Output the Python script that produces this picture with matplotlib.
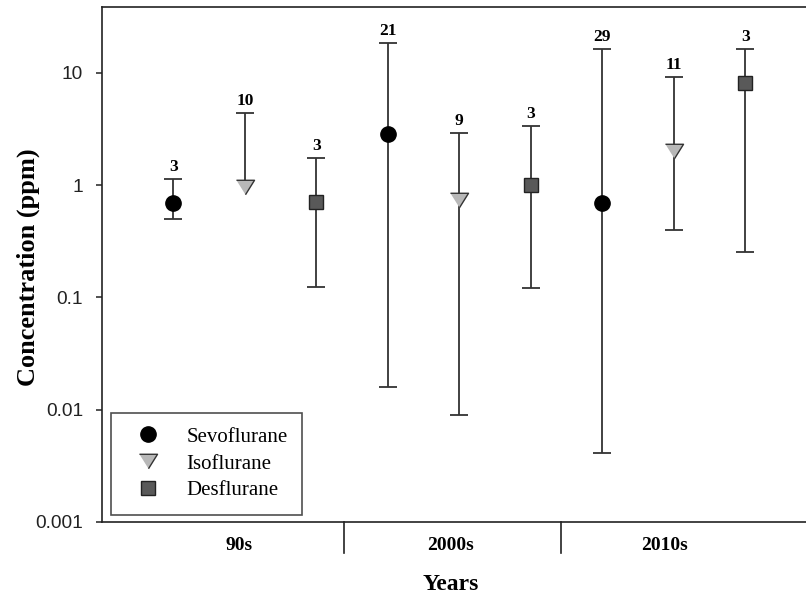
import matplotlib
matplotlib.use("Agg")
import matplotlib.pyplot as plt
import numpy as np
from matplotlib.transforms import blended_transform_factory

# ---- data ----
decades = ["90s", "2000s", "2010s"]
agents = ["Sevoflurane", "Isoflurane", "Desflurane"]

# per agent: values for 90s, 2000s, 2010s
mean_vals = {
    "Sevoflurane": [0.70, 2.87, 0.70],
    "Isoflurane": [0.97, 0.74, 2.0],
    "Desflurane": [0.71, 1.0, 8.2],
}
max_vals = {
    "Sevoflurane": [1.14, 18.6, 16.2],
    "Isoflurane": [4.36, 2.93, 9.15],
    "Desflurane": [1.75, 3.36, 16.2],
}
min_vals = {
    "Sevoflurane": [0.50, 0.0159, 0.0041],
    "Isoflurane": [None, 0.0090, 0.40],
    "Desflurane": [0.124, 0.122, 0.253],
}
counts = {
    "Sevoflurane": [3, 21, 29],
    "Isoflurane": [10, 9, 11],
    "Desflurane": [3, 3, 3],
}

tri = [(-1, 0.8), (1, 0.8), (0, -0.8)]
styles = {
    "Sevoflurane": dict(marker="o", ms=11, mfc="black", mec="black"),
    "Isoflurane": dict(marker=tri, ms=13, mfc="#b8b8b8", mec="#333333"),
    "Desflurane": dict(marker="s", ms=10, mfc="#595959", mec="#222222"),
}

W, H = 806, 598
fig = plt.figure(figsize=(W / 100, H / 100), dpi=100)
ax = fig.add_axes([101.8 / W, (H - 522) / H, 715 / W, 515 / H])

serif = ["Liberation Serif", "DejaVu Serif"]
sans = ["Liberation Sans", "DejaVu Sans"]
bar_col = "#333333"
cap_ms = 12.6

handles = []
for j, ag in enumerate(agents):
    xs = np.array([1 + 3 * i + j for i in range(3)], dtype=float)
    for x, m, top, low in zip(xs, mean_vals[ag], max_vals[ag], min_vals[ag]):
        bottom = m if low is None else low
        ax.vlines(x, bottom, top, color=bar_col, lw=1.3, zorder=2)
        ax.plot([x], [top], marker="_", ms=cap_ms, mew=1.3, color=bar_col, zorder=2)
        if low is not None:
            ax.plot([x], [low], marker="_", ms=cap_ms, mew=1.3, color=bar_col, zorder=2)
    st = styles[ag]
    p, = ax.plot(xs, mean_vals[ag], linestyle="none", marker=st["marker"], ms=st["ms"],
                 mfc=st["mfc"], mec=st["mec"], mew=1.0, zorder=3, label=ag)
    handles.append(p)
    for x, top, n in zip(xs, max_vals[ag], counts[ag]):
        ax.annotate(str(n), (x, top), xytext=(0, 3), textcoords="offset points",
                    ha="center", va="bottom", fontsize=12.5, fontweight="bold",
                    family=serif)

ax.set_yscale("log")
ax.set_ylim(0.001, 38.7)
ax.set_xlim(0, 10)
ax.set_yticks([0.001, 0.01, 0.1, 1, 10])
ax.set_yticklabels(["0.001", "0.01", "0.1", "1", "10"], family=sans, fontsize=13.8)
ax.yaxis.set_minor_locator(matplotlib.ticker.NullLocator())
ax.tick_params(axis="y", direction="out", length=4.5, width=1.1, pad=9, colors="#222222")
ax.set_xticks([])
for s in ax.spines.values():
    s.set_linewidth(1.2)
    s.set_color("#222222")

# group separators and labels below the axis
trans = blended_transform_factory(ax.transData, ax.transAxes)
for xsep in [3.39, 6.42]:
    ax.plot([xsep, xsep], [0, -0.06], transform=trans, color="#222222",
            lw=1.2, clip_on=False)
for xl, lab in zip([1.92, 4.88, 7.87], decades):
    ax.text(xl, -0.045, lab, transform=trans, ha="center", va="center",
            fontsize=14, fontweight="bold", family=serif)

fig.text(450.7 / W, 1 - 584 / H, "Years", ha="center", va="center",
         fontsize=17, fontweight="bold", family=serif)
fig.text(28 / W, 1 - 267.5 / H, "Concentration (ppm)", ha="center", va="center",
         rotation=90, fontsize=19, fontweight="bold", family=serif)

leg = ax.legend(handles=handles, loc="lower left",
                bbox_to_anchor=(9.5 / 715, 7 / 515, 191 / 715, 108 / 515),
                mode="expand", frameon=True, fancybox=False, edgecolor="#222222",
                prop=dict(family=serif, size=15), handlelength=2.15,
                handletextpad=0.75, labelspacing=0.35, borderpad=0.7,
                borderaxespad=0, markerscale=1.0)
leg.get_frame().set_linewidth(1.2)

fig.savefig("out.png", dpi=100)
